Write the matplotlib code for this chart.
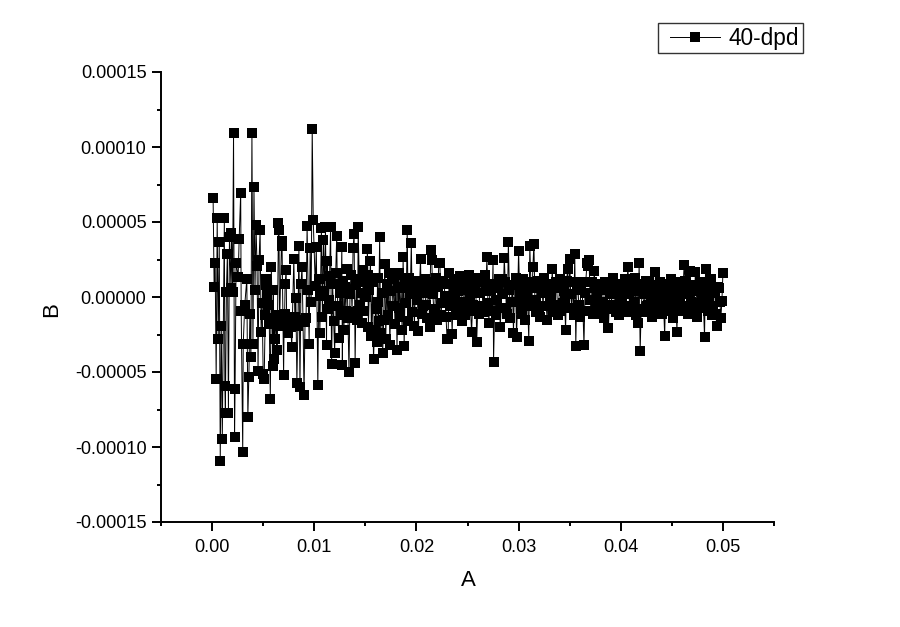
import matplotlib
matplotlib.use('Agg')
import matplotlib.pyplot as plt
from matplotlib.ticker import FuncFormatter, MultipleLocator
import numpy as np

# A in units of 1e-3, B in units of 1e-5
a_0_10 = [0.1, 0.2, 0.3, 0.4, 0.5, 0.6, 0.7, 0.8, 0.9, 1.0, 1.2, 1.25, 1.3, 1.4, 1.5, 1.6, 1.7, 1.85, 1.9, 2.0,
          2.1, 2.2, 2.25, 2.35, 2.55, 2.65, 2.8, 2.85, 3.0, 3.05, 3.2, 3.4, 3.5, 3.6, 3.7, 3.8, 3.9, 4.0, 4.1, 4.2,
          4.3, 4.4, 4.5, 4.6, 4.7, 4.8, 4.9, 5.0, 5.1, 5.25, 5.3, 5.4, 5.5, 5.7, 5.8, 5.95, 6.0, 6.05, 6.15, 6.3,
          6.35, 6.5, 6.55, 6.8, 6.85, 7.0, 7.05, 7.1, 7.15, 7.25, 7.5, 7.8, 7.85, 8.0, 8.2, 8.3, 8.5, 8.6, 8.7, 8.8,
          9.0, 9.1, 9.3, 9.5, 9.6, 9.8, 9.9]
b_0_10 = [6.6, 0.65, 2.3, -5.45, 5.25, -2.8, 3.65, -10.9, -1.9, -9.45, 5.25, -5.9, -7.7, 0.35, 2.9, -7.75, 4.0, 0.6, 4.3, 0.35,
          10.95, -9.3, -6.1, 2.3, 1.35, 3.85, 6.95, -0.95, -10.3, -3.1, -0.5, 1.2, -8.0, -5.3, -1.1, -4.0, 10.95, -3.1, 7.35, 0.45,
          4.8, 2.1, -4.9, 2.5, 4.45, -2.3, -0.4, -5.1, -5.45, 0.8, 1.2, 0.15, -0.5, -6.8, 2.0, -4.6, 0.5, -4.1, -2.8, -1.2,
          -3.5, 4.95, 4.5, 3.75, 3.4, -5.2, -1.75, -1.1, 0.9, 1.8, -1.4, -3.3, -1.75, 2.55, -0.05, -5.7, 3.4, -6.0, 0.85, 2.0,
          -6.5, -1.65, 4.75, -3.1, 3.25, 11.2, 5.15]

a_10_20 = [10.1, 10.2, 10.35, 10.45, 10.55, 10.7, 10.8, 10.9, 11.0, 11.1, 11.2, 11.25, 11.4, 11.5, 11.6, 11.7, 11.8, 11.9, 12.0, 12.1,
           12.2, 12.3, 12.4, 12.5, 12.6, 12.7, 12.75, 12.8, 12.9, 13.0, 13.1, 13.2, 13.3, 13.4, 13.5, 13.6, 13.7, 13.8, 13.9, 14.0,
           14.1, 14.2, 14.3, 14.4, 14.5, 14.6, 14.7, 14.8, 14.9, 15.0, 15.1, 15.2, 15.3, 15.4, 15.5, 15.6, 15.7, 15.8, 15.9, 16.0,
           16.1, 16.2, 16.3, 16.4, 16.5, 16.6, 16.7, 16.8, 16.9, 17.0, 17.1, 17.2, 17.3, 17.4, 17.5, 17.6, 17.7, 17.8, 17.9, 18.0,
           18.1, 18.2, 18.3, 18.4, 18.5, 18.6, 18.7, 18.8, 18.9, 19.0, 19.1, 19.2, 19.3, 19.4, 19.5, 19.6, 19.7, 19.8, 19.9]
b_10_20 = [0.75, 3.35, -5.85, 1.2, -2.4, 4.6, -1.3, 3.8, 0.4, 4.7, -3.2, 2.4, -0.2, 1.4, 4.7, -4.45, 0.9, -1.6, -3.75, 1.6,
           4.1, -0.6, -2.75, 0.3, -1.2, 3.35, -4.5, 1.1, -2.2, 0.7, -0.9, 1.9, -1.4, -5.0, 0.2, 1.5, -1.0, 3.3, 4.2, -4.4,
           0.8, -1.5, 4.65, 1.2, -0.5, 0.3, -1.7, 1.8, -0.9, 1.0, 0.0, 3.2, -2.0, 0.5, 2.4, -2.6, 1.0, -4.15, -2.2, -0.8,
           -3.0, 1.3, -1.6, 4.0, -2.4, 0.3, -3.7, -1.5, 2.2, -2.8, 0.9, -1.2, 1.6, -3.2, 0.4, 1.5, -0.6, 1.2, -1.8, 1.5,
           -3.5, 0.7, 1.6, -1.3, 0.6, -2.2, 2.65, -3.25, 1.0, -0.4, 4.45, -1.6, 1.3, 0.2, 3.6, -1.0, 0.7, -1.9, 0.5]

a_20_30 = [20.0, 20.2, 20.4, 20.6, 20.8, 21.0, 21.2, 21.3, 21.4, 21.5, 21.7, 21.9, 22.0, 22.2, 22.3, 22.5, 22.7, 22.9, 23.0, 23.1,
           23.2, 23.4, 23.5, 23.7, 23.9, 24.1, 24.3, 24.5, 24.7, 24.9, 25.1, 25.3, 25.4, 25.6, 25.8, 25.9, 26.1, 26.3, 26.5, 26.7,
           26.9, 27.1, 27.3, 27.5, 27.55, 27.8, 28.0, 28.2, 28.4, 28.6, 28.8, 29.0, 29.2, 29.4, 29.5, 29.7, 29.8, 29.9]
b_20_30 = [1.1, -2.25, 2.55, -0.6, 1.2, -1.4, 0.5, -2.0, 3.15, 2.45, -0.8, 1.3, -1.5, 2.3, 2.25, -0.4, 0.9, -1.3, -2.8, -2.8,
           1.6, -0.3, -2.45, 1.0, -1.2, 0.4, 1.4, -1.6, 0.7, -0.5, 1.5, -0.9, -2.35, 0.6, 1.3, -3.0, -1.1, 1.0, -0.6, 1.5,
           2.7, -1.7, 0.5, 2.45, -4.3, -1.2, 0.9, -2.0, 1.2, 2.6, -0.7, 3.65, -1.4, 0.8, -2.4, 1.3, -2.65, -0.3]

a_30_40 = [30.0, 30.2, 30.4, 30.6, 30.8, 31.0, 31.1, 31.3, 31.4, 31.5, 31.7, 31.9, 32.1, 32.3, 32.5, 32.8, 33.0, 33.3, 33.5, 33.7,
           33.9, 34.1, 34.3, 34.6, 34.8, 35.0, 35.2, 35.5, 35.6, 35.8, 36.0, 36.2, 36.4, 36.7, 36.75, 36.9, 37.1, 37.4, 37.6, 37.8,
           38.0, 38.2, 38.4, 38.6, 38.8, 39.0, 39.2, 39.4, 39.6, 39.8]
b_30_40 = [3.1, -0.8, 1.2, -1.5, 0.6, -2.95, 3.4, -0.5, 2.0, 3.55, -1.0, 1.1, -1.3, 0.4, 1.3, -1.5, 0.7, 1.9, -0.9, 1.0,
           -1.2, 1.2, -0.4, -2.2, 1.85, 2.55, -0.7, 2.85, -3.25, 0.6, -1.3, 1.0, -3.2, 2.25, 2.1, 2.5, -0.9, 1.75, -0.3, 0.9,
           -1.1, 0.7, -1.4, 0.5, -2.05, 1.0, 1.3, -0.8, 0.6, -1.2]

a_40_50 = [40.0, 40.2, 40.4, 40.7, 40.9, 41.1, 41.4, 41.5, 41.7, 41.8, 41.9, 42.1, 42.3, 42.5, 42.7, 42.9, 43.1, 43.4, 43.6, 43.8,
           44.0, 44.3, 44.5, 44.7, 44.9, 45.1, 45.3, 45.5, 45.7, 45.9, 46.2, 46.4, 46.6, 46.8, 47.0, 47.3, 47.5, 47.7, 47.9, 48.2,
           48.3, 48.5, 48.7, 48.9, 49.1, 49.4, 49.6, 49.8, 49.9, 50.0]
b_40_50 = [0.9, -0.7, 1.2, 2.0, -0.9, 0.6, 1.3, -1.2, -1.7, 2.25, -3.6, 0.4, -1.0, 1.1, -0.5, 0.8, -1.3, 1.65, -0.3, 1.0,
           -1.1, -2.6, 0.5, -0.8, 1.2, -1.4, 0.3, -2.3, 1.0, -0.9, 2.15, 0.2, -1.1, 1.75, -0.6, 1.65, -1.3, 0.7, -0.4, -2.65,
           1.9, -0.9, 0.8, -1.2, 0.4, -1.9, 0.6, -1.4, -0.25, 1.6]

# points inside the solid band, placed by eye
a_band = [5.2, 5.6, 6.1, 6.4, 6.6, 7.3, 7.4, 7.6, 7.7, 8.1, 8.4, 8.9, 9.2, 9.4, 9.7,
          10.6, 11.3, 12.25, 13.25, 14.25, 15.25, 16.25, 17.25, 18.25, 19.25,
          20.1, 20.3, 20.5, 20.7, 20.9, 21.1, 21.6, 21.8, 22.1, 22.4, 22.6, 22.8, 23.3, 23.6, 23.8,
          24.0, 24.2, 24.4, 24.6, 24.8, 25.0, 25.2, 25.5, 25.7, 26.0, 26.2, 26.4, 26.6, 26.8, 27.0,
          27.2, 27.4, 27.7, 27.9, 28.1, 28.3, 28.5, 28.7, 28.9, 29.1, 29.3, 29.6,
          30.1, 30.3, 30.5, 30.7, 30.9, 31.2, 31.6, 31.8, 32.0, 32.2, 32.4, 32.6, 32.9, 33.1, 33.2, 33.4, 33.6, 33.8,
          34.0, 34.2, 34.4, 34.5, 34.7, 34.9, 35.1, 35.3, 35.4, 35.7, 35.9, 36.1, 36.3, 36.5, 37.0, 37.2, 37.3, 37.5, 37.7, 37.9,
          38.1, 38.3, 38.5, 38.7, 38.9, 39.1, 39.3, 39.5, 39.7, 39.9,
          40.1, 40.3, 40.5, 40.6, 40.8, 41.0, 41.2, 41.3, 41.6, 42.0, 42.2, 42.4, 42.6, 42.8, 43.0, 43.2, 43.3, 43.5, 43.7, 43.9,
          44.1, 44.2, 44.4, 44.6, 44.8, 45.0, 45.2, 45.4, 45.6, 45.8, 46.0, 46.1, 46.3, 46.5, 46.7, 46.9, 47.1, 47.2, 47.4, 47.6,
          47.8, 48.0, 48.1, 48.4, 48.6, 48.8, 49.0, 49.2, 49.3, 49.5, 49.7]
b_band = [-1.2, -1.8, -1.4, -1.6, -1.9, -1.6, -2.4, -1.5, -2.0, -1.3, -1.9, -1.5, -1.4, 0.5, -0.3,
          0.1, -0.8, 0.9, 0.4, -0.9, 1.5, -0.3, 0.4, -0.7, 0.9,
          -0.2, 0.6, -1.1, 0.3, -0.5, 1.0, 0.2, -0.9, 0.7, -1.2, 1.1, 0.1, -0.6, 0.9, 0.3,
          -0.7, 1.2, -0.3, 0.5, -1.2, 1.0, 0.1, -0.5, 0.8, -0.8, 0.3, 1.1, -1.0, 0.4, -0.4,
          0.9, -0.9, 0.6, -0.2, 1.2, -0.7, 0.2, 1.0, -1.1, 0.5, -0.3, 0.8,
          0.3, -1.1, 0.7, 0.1, -0.6, 1.0, -0.2, 0.6, -0.8, 1.1, -0.6, 0.3, 0.9, -0.4, 0.1, -1.0, 0.6, -0.5,
          0.8, -0.9, 0.4, -0.2, 1.1, -0.7, 0.2, 1.0, -1.2, 0.5, -0.5, 0.8, -0.9, 0.3, -0.2, 1.0, -1.1, 0.6, 0.1, -0.6,
          0.7, -0.3, 1.0, -0.8, 0.2, -0.5, 0.9, -1.0, 0.3, 0.0,
          -0.2, 0.5, -1.0, 0.8, 0.2, -0.6, 0.9, -0.3, 0.4, -0.8, 0.9, 0.2, -0.6, 1.1, -0.2, 0.5, -0.9, 0.7, -0.5, 0.3,
          0.6, -0.7, 0.9, -0.2, 0.3, -0.9, 0.7, -0.4, 1.0, 0.1, -0.6, 0.5, 1.1, -0.8, 0.2, -0.3, 0.8, -1.1, 0.4, -0.5,
          1.0, 0.2, -0.7, 0.5, -0.2, 1.2, -0.6, 0.3, -1.1, 0.7, -0.3]

series_a = np.array(a_0_10 + a_10_20 + a_20_30 + a_30_40 + a_40_50 + a_band) * 1e-3
series_b = np.array(b_0_10 + b_10_20 + b_20_30 + b_30_40 + b_40_50 + b_band) * 1e-5
order = np.argsort(series_a, kind='stable')

plt.rcParams['font.family'] = ['Liberation Sans', 'DejaVu Sans']

fig = plt.figure(figsize=(9, 6.27), dpi=100)
ax = fig.add_axes([161 / 900, 105 / 627, 613 / 900, 450 / 627])

line, = ax.plot(series_a[order], series_b[order], color='black', linewidth=0.7, marker='s',
                markersize=7.1, markeredgewidth=0, label='40-dpd')

ax.set_xlim(-0.005, 0.055)
ax.set_ylim(-0.00015, 0.00015)
ax.xaxis.set_major_locator(MultipleLocator(0.01))
ax.xaxis.set_minor_locator(MultipleLocator(0.005))
ax.yaxis.set_major_locator(MultipleLocator(0.00005))
ax.yaxis.set_minor_locator(MultipleLocator(0.000025))
ax.xaxis.set_major_formatter(FuncFormatter(lambda v, p: '%.2f' % abs(v) if abs(v) < 1e-9 else '%.2f' % v))
ax.yaxis.set_major_formatter(FuncFormatter(lambda v, p: '0.00000' if abs(v) < 1e-9 else '%.5f' % v))

ax.spines['top'].set_visible(False)
ax.spines['right'].set_visible(False)
ax.spines['left'].set_linewidth(1.4)
ax.spines['bottom'].set_linewidth(1.4)
ax.tick_params(which='major', direction='out', length=6.5, width=1.4, labelsize=13.1)
ax.tick_params(axis='x', which='major', pad=6)
ax.tick_params(axis='y', which='major', pad=4)
ax.tick_params(which='minor', direction='out', length=3.2, width=1.4)

ax.set_xlabel('A', fontsize=16)
ax.set_ylabel('B', fontsize=16)
ax.xaxis.set_label_coords((468 - 161) / 613, -(581 - 522) / 450, transform=ax.transAxes)
ax.xaxis.label.set_verticalalignment('center')
ax.yaxis.set_label_coords((52 - 161) / 613, (522 - 310) / 450, transform=ax.transAxes)
ax.yaxis.label.set_verticalalignment('center')

leg = fig.legend(handles=[line], loc='upper left', bbox_to_anchor=(658 / 900, 1 - 23 / 627),
                 fontsize=16.3, fancybox=False, framealpha=1, edgecolor='#333333',
                 borderaxespad=0, borderpad=0.16, handlelength=2.56, handletextpad=0.4, numpoints=1)
leg.get_frame().set_linewidth(1.0)
# the handle line starts further in from the frame than the legend pad allows
leg_line = leg.get_lines()[0]
xd = leg_line.get_xdata()
leg_line.set_xdata(np.linspace(xd[0] + 5.8, xd[-1], len(xd)))

fig.savefig('out.png', dpi=100)
plt.close()
